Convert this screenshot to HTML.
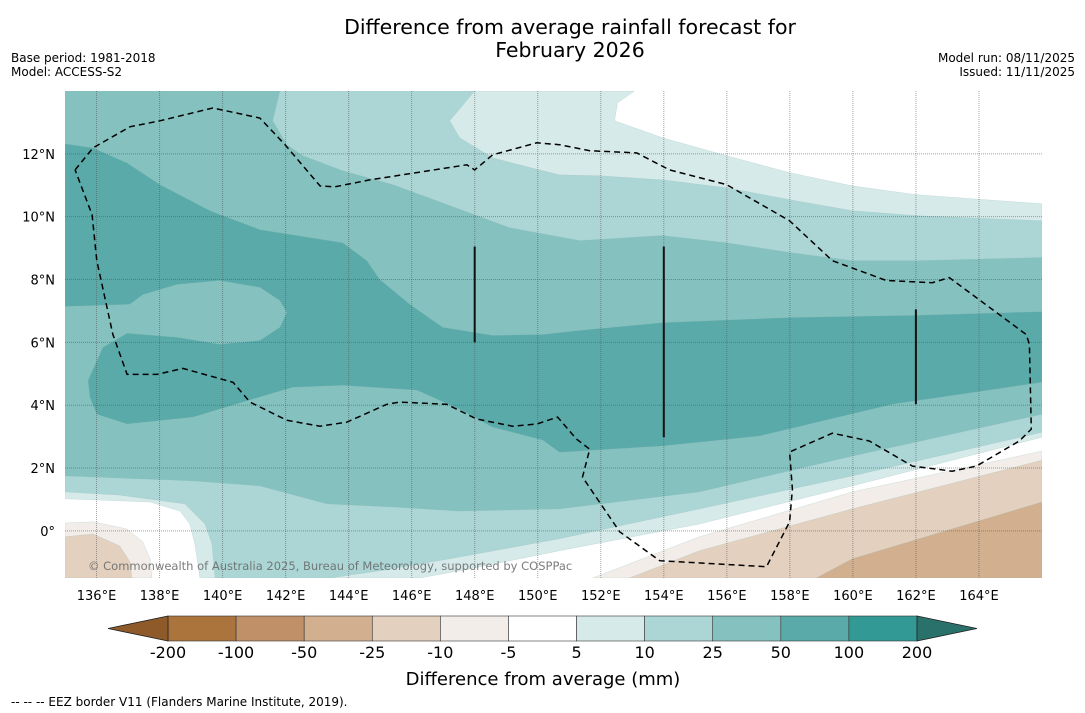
<!DOCTYPE html>
<html><head><meta charset="utf-8"><style>
body{margin:0;background:#fff;font-family:"DejaVu Sans","Liberation Sans",sans-serif;}
#wrap{position:relative;width:1085px;height:713px;overflow:hidden;background:#fff;}
svg{position:absolute;left:0;top:0;font-family:"DejaVu Sans","Liberation Sans",sans-serif;}
</style></head><body>
<div id="wrap">
<svg id="chart" width="1085" height="713">
<text x="570" y="34" text-anchor="middle" font-size="20.5" fill="#000">Difference from average rainfall forecast for</text>
<text x="570" y="57" text-anchor="middle" font-size="20.5" fill="#000">February 2026</text>
<text x="11" y="62" font-size="12">Base period: 1981-2018</text>
<text x="11" y="76" font-size="12">Model: ACCESS-S2</text>
<text x="1075" y="62" font-size="12" text-anchor="end">Model run: 08/11/2025</text>
<text x="1075" y="76" font-size="12" text-anchor="end">Issued: 11/11/2025</text>
<text x="11" y="706" font-size="12">--  --  -- EEZ border V11 (Flanders Marine Institute, 2019).</text>
<g id="map"></g>
<g id="cbar"></g>
</svg>
</div>
<script>
// map extent
const lonMin=135, lonMax=166, latMin=-1.5, latMax=14;
const px0=65, px1=1042, py0=91, py1=578;
const xTicks=[136,138,140,142,144,146,148,150,152,154,156,158,160,162,164];
const yTicks=[0,2,4,6,8,10,12];
const levels=[-200,-100,-50,-25,-10,-5,5,10,25,50,100,200];
const levelColors=['#ab743d','#c09169','#d2b08f','#e4d0be','#f2ede8','#ffffff','#d6eae9','#acd6d5','#84c1bf','#5aaaaa','#339995'];
// contour regions [lon,lat]
const ge5=[[135,14],[153.07,14],[152.53,13.62],[152.44,13.05],[153.96,12.51],[155.99,11.94],[157.99,11.4],[159.98,10.98],[162.01,10.7],[166,10.41],[166,2.98],[159.98,1.43],[155.13,0.22],[150.69,-0.63],[147.84,-1.21],[146.26,-1.5],[139.28,-1.5],[139.12,-0.41],[138.96,0.22],[138.65,0.63],[137.7,0.92],[135,1.02]];
const ge10=[[135,14],[148,14],[147.21,13.05],[147.52,12.51],[148.57,11.87],[150.16,11.46],[150.69,11.33],[151.96,11.3],[153.96,11.17],[155.99,10.92],[157.99,10.54],[159.98,10.19],[162.01,10.03],[166,9.87],[166,3.14],[159.98,1.75],[155.13,0.7],[150.69,-0.25],[147.21,-0.89],[144.99,-1.27],[143.4,-1.5],[139.76,-1.5],[139.66,-0.41],[139.44,0.22],[138.8,0.86],[136.74,1.14],[135,1.24]];
const ge25=[[135,14],[141.82,14],[141.59,13.05],[142.04,12.29],[142.55,11.94],[143.81,11.46],[145.4,11.02],[148.0,10.06],[149.11,9.65],[151.33,9.24],[153.96,9.4],[155.99,9.17],[157.99,8.86],[159.98,8.6],[162.01,8.6],[166,8.7],[166,3.71],[159.98,2.38],[155.13,1.24],[150.69,0.7],[147.52,0.63],[145.4,0.76],[143.31,0.86],[141.18,1.43],[139.06,1.59],[135,1.75]];
const ge50=[[135,12.32],[135.89,12.19],[136.97,11.71],[138.01,11.02],[139.6,10.19],[141.18,9.59],[143.81,9.17],[144.58,8.6],[144.99,8.0],[145.94,7.21],[146.98,6.48],[148.57,6.22],[150.16,6.25],[151.33,6.38],[153.96,6.63],[157.99,6.79],[162.01,6.86],[166,6.98],[166,4.73],[161.25,4.03],[157.04,3.02],[153.96,2.7],[150.69,2.5],[150.16,2.89],[148.57,3.3],[147.52,3.87],[146.16,4.48],[143.81,4.63],[142.23,4.57],[140.64,4.1],[139.06,3.62],[136.97,3.4],[136.01,3.71],[135.79,4.25],[135.73,4.79],[136.2,5.84],[136.97,6.29],[138.55,6.16],[139.91,5.94],[141.18,6.06],[141.82,6.48],[142.04,6.95],[141.82,7.33],[141.18,7.75],[139.91,7.97],[138.55,7.84],[137.47,7.52],[137.06,7.21],[135,7.14]];
const le5R=[[166,2.54],[159.98,1.24],[155.13,-0.19],[151.74,-1.5],[166,-1.5]];
const le10R=[[166,2.25],[159.98,0.7],[155.13,-0.63],[152.91,-1.5],[166,-1.5]];
const le25R=[[166,0.92],[159.98,-0.89],[158.84,-1.5],[166,-1.5]];
const le5L=[[135,0.25],[135.89,0.29],[136.97,0.06],[137.47,-0.35],[137.7,-0.89],[137.76,-1.5],[135,-1.5]];
const le10L=[[135,-0.19],[135.89,-0.1],[136.74,-0.48],[137.06,-0.98],[137.12,-1.5],[135,-1.5]];
const eez=[[135.32,11.49],[135.89,12.19],[137.06,12.86],[138.01,13.05],[139.69,13.46],[141.18,13.14],[141.98,12.29],[143.09,10.98],[143.56,10.95],[144.67,11.17],[147.75,11.65],[148.0,11.49],[148.57,11.97],[149.97,12.35],[150.69,12.29],[151.65,12.1],[153.14,12.03],[154.18,11.49],[155.99,11.02],[157.99,9.87],[159.35,8.6],[161.06,7.97],[162.52,7.9],[163.06,8.06],[165.5,6.25],[165.6,5.94],[165.66,3.24],[165.28,2.86],[163.92,2.06],[163.15,1.9],[161.89,2.06],[160.52,2.86],[159.35,3.11],[157.99,2.51],[158.08,1.33],[157.99,0.29],[157.26,-1.14],[153.87,-0.95],[152.6,-0.03],[151.42,1.71],[151.65,2.6],[151.23,2.92],[150.63,3.62],[149.97,3.4],[149.2,3.33],[148.06,3.56],[147.11,4.03],[145.62,4.1],[145.21,4.03],[143.94,3.46],[143.09,3.33],[142.04,3.52],[140.87,4.1],[140.33,4.73],[138.74,5.17],[137.92,4.98],[136.97,4.98],[136.52,6.25],[136.01,8.6],[135.86,10.06],[135.32,11.49]];
const eezSegs=[[[148,9.05],[148,6.0]],[[154,9.05],[154,2.98]],[[162,7.05],[162,4.03]]];

const NS='http://www.w3.org/2000/svg';
const X=lon=>px0+(lon-lonMin)/(lonMax-lonMin)*(px1-px0);
const Y=lat=>py0+(latMax-lat)/(latMax-latMin)*(py1-py0);
const map=document.getElementById('map');
function mk(tag,attrs,parent){const e=document.createElementNS(NS,tag);for(const k in attrs)e.setAttribute(k,attrs[k]);parent.appendChild(e);return e;}
const pts=a=>a.map(p=>X(p[0]).toFixed(1)+','+Y(p[1]).toFixed(1)).join(' ');
const cp=mk('clipPath',{id:'mc'},map);mk('rect',{x:px0,y:py0,width:px1-px0,height:py1-py0},cp);
const g=mk('g',{'clip-path':'url(#mc)'},map);
const bg=mk('rect',{x:px0,y:py0,width:px1-px0,height:py1-py0,fill:'#fff'},g);


const fills=[[ge5,6,'band-5-10'],[ge10,7,'band-10-25'],[ge25,8,'band-25-50'],[ge50,9,'band-50-100'],[le5R,4,'band-neg5-neg10-east'],[le5L,4,'band-neg5-neg10-west'],[le10R,3,'band-neg10-neg25-east'],[le10L,3,'band-neg10-neg25-west'],[le25R,2,'band-neg25-neg50']];
fills.forEach(f=>{const p=mk('polygon',{points:pts(f[0]),fill:levelColors[f[1]],stroke:'#8fb8b6','stroke-width':0.4,'stroke-opacity':0.5},g);

});
// grid
xTicks.forEach(t=>{const l=mk('line',{x1:X(t),x2:X(t),y1:py0,y2:py1,stroke:'#555','stroke-width':1,'stroke-dasharray':'1,1','stroke-opacity':0.55},g);


const tx=mk('text',{x:X(t),y:600,'text-anchor':'middle','font-size':13,fill:'#000'},map);tx.textContent=t+'°E';

});
yTicks.forEach(t=>{const l=mk('line',{x1:px0,x2:px1,y1:Y(t),y2:Y(t),stroke:'#555','stroke-width':1,'stroke-dasharray':'1,1','stroke-opacity':0.55},g);


const tx=mk('text',{x:55,y:Y(t)+5,'text-anchor':'end','font-size':13,fill:'#000'},map);tx.textContent=t===0?'0°':t+'°N';

});
// EEZ
const ez=mk('polyline',{points:pts(eez),fill:'none',stroke:'#000','stroke-width':1.5,'stroke-dasharray':'6,4'},g);


eezSegs.forEach((s,i)=>{const l=mk('polyline',{points:pts(s),fill:'none',stroke:'#111','stroke-width':2},g);

});
const cr=mk('text',{x:88,y:570,'font-size':11.5,fill:'#666','fill-opacity':0.85},g);cr.textContent='© Commonwealth of Australia 2025, Bureau of Meteorology, supported by COSPPac';


// colorbar
const cb=document.getElementById('cbar');
const cbx0=168, cbx1=917, cby=616, cbh=25, n=levels.length-1, bw=(cbx1-cbx0)/n;
for(let i=0;i<n;i++){const r=mk('rect',{x:cbx0+i*bw,y:cby,width:bw,height:cbh,fill:levelColors[i],stroke:'#333','stroke-width':0.6},cb);

}
const tl=mk('polygon',{points:`108,${cby+cbh/2} ${cbx0},${cby} ${cbx0},${cby+cbh}`,fill:'#8e5a2a',stroke:'#222','stroke-width':0.8},cb);


const tr=mk('polygon',{points:`977,${cby+cbh/2} ${cbx1},${cby} ${cbx1},${cby+cbh}`,fill:'#2a716c',stroke:'#222','stroke-width':0.8},cb);


levels.forEach((v,i)=>{const t=mk('text',{x:cbx0+i*bw,y:658,'text-anchor':'middle','font-size':16,fill:'#000'},cb);t.textContent=v;

});
const ct=mk('text',{x:543,y:685,'text-anchor':'middle','font-size':18,fill:'#000'},cb);ct.textContent='Difference from average (mm)';


</script>
</body></html>
